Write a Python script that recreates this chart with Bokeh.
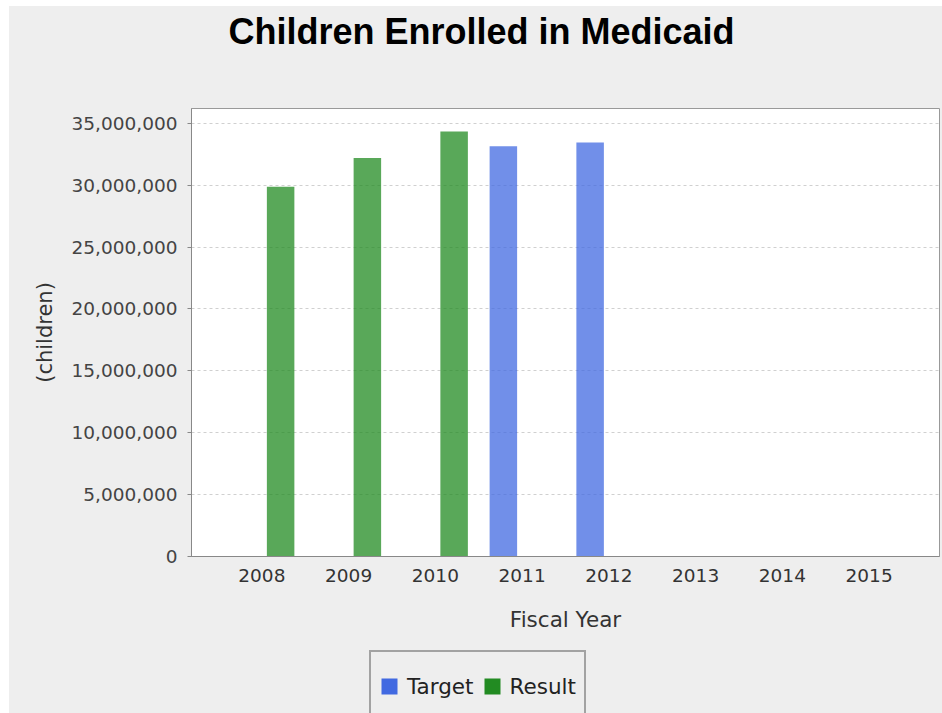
import math
from bokeh.plotting import figure
from bokeh.layouts import column
from bokeh.models import (FactorRange, Range1d, ColumnDataSource, SingleIntervalTicker,
                          NumeralTickFormatter, Legend, LegendItem, Title)
from bokeh.transform import dodge
from bokeh.embed import file_html
from bokeh.resources import INLINE

years = ["2008", "2009", "2010", "2011", "2012", "2013", "2014", "2015"]
target = [math.nan, math.nan, math.nan, 33150000, 33450000, math.nan, math.nan, math.nan]
result = [29880000, 32200000, 34350000, math.nan, math.nan, math.nan, math.nan, math.nan]
series_names = ["Target", "Result"]
y_max = 36200000
tick_step = 5000000

BLUE = "#4169E1"
GREEN = "#228B22"
BG = "#EEEEEE"

def present(vals):
    xs = [y for y, v in zip(years, vals) if not math.isnan(v)]
    ys = [v for v in vals if not math.isnan(v)]
    return ColumnDataSource(dict(year=xs, value=ys))

p = figure(x_range=FactorRange(factors=years, range_padding=0.0778),
           y_range=Range1d(0, y_max),
           frame_width=748, frame_height=448,
           min_border_left=182, min_border_top=0, min_border_right=3, min_border_bottom=94,
           output_backend="svg", toolbar_location=None, title=None,
           background_fill_color="white", border_fill_color=BG)

unit = 1 / 86.75
bar_w = 27.5 * unit
off = (5 + 13.75) * unit

rt = p.vbar(x=dodge("year", -off, range=p.x_range), top="value", width=bar_w,
            source=present(target), fill_color=BLUE, fill_alpha=0.75, line_color=None)
rr = p.vbar(x=dodge("year", off, range=p.x_range), top="value", width=bar_w,
            source=present(result), fill_color=GREEN, fill_alpha=0.75, line_color=None)

# spacer between title and frame, then the title itself
spacer = Title(text=" ", text_font_size="20px", standoff=31, text_color=BG)
title = Title(text="Children Enrolled in Medicaid", text_font="Liberation Sans",
              text_font_style="bold", text_font_size="36px", text_color="black",
              align="left", offset=37, standoff=4)
p.add_layout(spacer, "above")
p.add_layout(title, "above")

p.outline_line_color = "#999999"
p.outline_line_width = 1

# axes
tick_font = "DejaVu Sans"
yax = p.yaxis[0]
yax.ticker = SingleIntervalTicker(interval=tick_step)
yax.formatter = NumeralTickFormatter(format="0,0")
yax.major_label_text_font = tick_font
yax.major_label_text_font_size = "18.5px"
yax.major_label_text_color = "#444444"
yax.major_tick_out = 4
yax.major_tick_in = 0
yax.minor_tick_out = 0
yax.minor_tick_in = 0
yax.major_tick_line_color = "#888888"
yax.axis_line_color = "#888888"
yax.major_label_standoff = 10
yax.axis_label = "(children)"
yax.axis_label_text_font = tick_font
yax.axis_label_text_font_size = "21px"
yax.axis_label_text_font_style = "normal"
yax.axis_label_text_color = "#333333"
yax.axis_label_standoff = 12

xax = p.xaxis[0]
xax.major_label_text_font = tick_font
xax.major_label_text_font_size = "18.5px"
xax.major_label_text_color = "#333333"
xax.major_tick_out = 0
xax.major_tick_in = 0
xax.axis_line_color = "#888888"
xax.major_label_standoff = 12
xax.axis_label = "Fiscal Year"
xax.axis_label_text_font = tick_font
xax.axis_label_text_font_size = "21.5px"
xax.axis_label_text_font_style = "normal"
xax.axis_label_text_color = "#333333"
xax.axis_label_standoff = 22

p.xgrid.grid_line_color = None
p.ygrid.grid_line_color = "#D0D0D0"
p.ygrid.grid_line_dash = "3 3"
p.ygrid.grid_line_width = 1

# legend strip below the chart (frame aligned with the chart's frame)
lp = figure(width=933, height=63, x_range=Range1d(0, 1), y_range=Range1d(0, 1),
            min_border_left=182, min_border_right=3, min_border_top=0, min_border_bottom=0,
            x_axis_location=None, y_axis_location=None,
            output_backend="svg", toolbar_location=None, title=None,
            background_fill_color=BG, border_fill_color=BG, outline_line_color=None)
lp.grid.visible = False
# zero-size key renderers: only their colours are used by the legend
key_src = ColumnDataSource(dict(x=[0.5], top=[0.0]))
lt = lp.vbar(x="x", top="top", width=0, source=key_src, fill_color=BLUE, line_color=None)
lr = lp.vbar(x="x", top="top", width=0, source=key_src, fill_color=GREEN, line_color=None)

pad = 8
lab_h = 52
legend = Legend(items=[LegendItem(label=series_names[0], renderers=[lt]),
                       LegendItem(label=series_names[1], renderers=[lr])],
                orientation="horizontal",
                padding=pad, spacing=8, label_standoff=8,
                glyph_width=20, glyph_height=20, label_height=lab_h,
                label_text_font=tick_font, label_text_font_size="21.5px",
                label_text_color="#222222",
                border_line_color="#555555", border_line_width=2,
                background_fill_color=BG, background_fill_alpha=1.0,
                margin=0)
legend.location = (178, -9)
lp.add_layout(legend, "center")

layout = column(p, lp, spacing=0, margin=(6, 0, 0, 9))
layout.styles = {"background-color": BG}
open("out.html", "w").write(file_html(layout, INLINE))
